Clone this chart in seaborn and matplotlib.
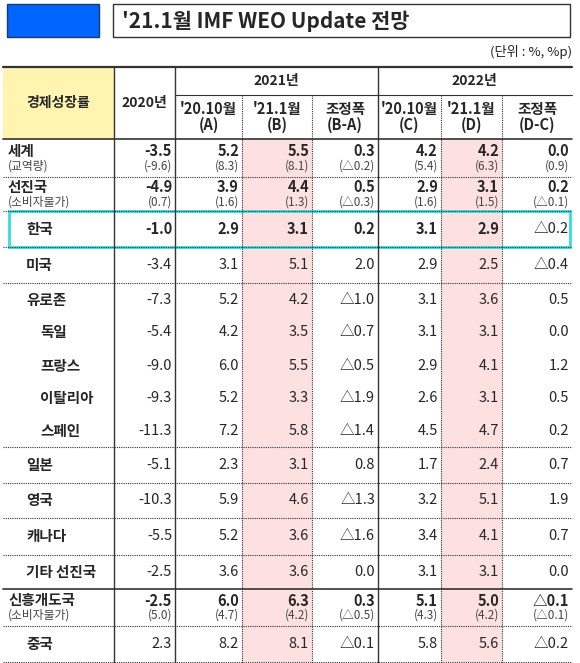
import matplotlib
matplotlib.use("Agg")
import matplotlib.pyplot as plt
import seaborn as sns
from matplotlib.patches import Rectangle

sns.set_style("white")
plt.rcParams['font.family'] = ['Noto Sans CJK KR', 'DejaVu Sans']

# ---- data ----
row_labels = ['세계', '선진국', '한국', '미국', '유로존', '독일', '프랑스', '이탈리아', '스페인',
              '일본', '영국', '캐나다', '기타 선진국', '신흥개도국', '중국']
sub_labels = {'세계': '(교역량)', '선진국': '(소비자물가)', '신흥개도국': '(소비자물가)'}
v2020 = ['-3.5', '-4.9', '-1.0', '-3.4', '-7.3', '-5.4', '-9.0', '-9.3', '-11.3',
         '-5.1', '-10.3', '-5.5', '-2.5', '-2.5', '2.3']
v21_a = ['5.2', '3.9', '2.9', '3.1', '5.2', '4.2', '6.0', '5.2', '7.2', '2.3', '5.9', '5.2', '3.6', '6.0', '8.2']
v21_b = ['5.5', '4.4', '3.1', '5.1', '4.2', '3.5', '5.5', '3.3', '5.8', '3.1', '4.6', '3.6', '3.6', '6.3', '8.1']
v21_d = ['0.3', '0.5', '0.2', '2.0', '△1.0', '△0.7', '△0.5', '△1.9', '△1.4',
         '0.8', '△1.3', '△1.6', '0.0', '0.3', '△0.1']
v22_c = ['4.2', '2.9', '3.1', '2.9', '3.1', '3.1', '2.9', '2.6', '4.5', '1.7', '3.2', '3.4', '3.1', '5.1', '5.8']
v22_d = ['4.2', '3.1', '2.9', '2.5', '3.6', '3.1', '4.1', '3.1', '4.7', '2.4', '5.1', '4.1', '3.1', '5.0', '5.6']
v22_dd = ['0.0', '0.2', '△0.2', '△0.4', '0.5', '0.0', '1.2', '0.5', '0.2',
          '0.7', '1.9', '0.7', '0.0', '△0.1', '△0.2']
sub_vals = {'세계': ['(-9.6)', '(8.3)', '(8.1)', '(△0.2)', '(5.4)', '(6.3)', '(0.9)'],
            '선진국': ['(0.7)', '(1.6)', '(1.3)', '(△0.3)', '(1.6)', '(1.5)', '(△0.1)'],
            '신흥개도국': ['(5.0)', '(4.7)', '(4.2)', '(△0.5)', '(4.3)', '(4.2)', '(△0.1)']}
bold_rows = ['세계', '선진국', '한국', '신흥개도국']
indented = ['독일', '프랑스', '이탈리아', '스페인']

# ---- layout (pixels) ----
col_edges = [3, 114, 175, 242, 312, 378, 441, 502, 572]
row_edges = [139, 177, 211, 247, 283, 316, 349, 382, 415, 447, 483, 518, 555, 589, 626, 662]
line_c = '#333333'

fig = plt.figure(figsize=(5.8, 6.63), dpi=100)
ax = fig.add_axes([0, 0, 1, 1])
ax.set_xlim(0, 580)
ax.set_ylim(663, 0)
ax.axis('off')

# title
ax.add_patch(Rectangle((7, 4), 92, 33, facecolor='#0066ff', edgecolor='#1a3a6e', lw=1))
ax.add_patch(Rectangle((113, 4), 457, 33, facecolor='white', edgecolor='#333333', lw=1))
ax.text(122, 21, "'21.1월 IMF WEO Update 전망", fontsize=15, fontweight='bold', va='center')
ax.text(572, 52, '(단위 : %, %p)', fontsize=9.5, ha='right', va='center', color='#222222')

# header
ax.add_patch(Rectangle((3, 67), 111, 72, facecolor='#fff5b0', edgecolor='none'))
ax.text(58, 103, '경제성장률', fontsize=10, fontweight='bold', ha='center', va='center')
ax.text(144, 103, '2020년', fontsize=10, fontweight='bold', ha='center', va='center')
ax.text(276, 81, '2021년', fontsize=10, fontweight='bold', ha='center', va='center')
ax.text(474, 81, '2022년', fontsize=10, fontweight='bold', ha='center', va='center')
sub_heads = ["'20.10월\n(A)", "'21.1월\n(B)", "조정폭\n(B-A)", "'20.10월\n(C)", "'21.1월\n(D)", "조정폭\n(D-C)"]
for i, h in enumerate(sub_heads):
    xc = (col_edges[i + 2] + col_edges[i + 3]) / 2
    ax.text(xc, 117, h, fontsize=10.5, fontweight='bold', ha='center', va='center', linespacing=1.0)

# pink columns
for ci in (3, 6):
    ax.add_patch(Rectangle((col_edges[ci], row_edges[0]), col_edges[ci + 1] - col_edges[ci],
                           row_edges[-1] - row_edges[0], facecolor='#fde0e0', edgecolor='none'))

# lines
ax.plot([3, 572], [67, 67], color=line_c, lw=1.6)
ax.plot([175, 572], [95, 95], color=line_c, lw=0.8)
ax.plot([3, 572], [139, 139], color=line_c, lw=1.2)
for y in (177, 211, 247, 283, 447, 483, 518, 555, 626, 662):
    ax.plot([3, 572], [y, y], color=line_c, lw=0.8, ls=(0, (1, 1)))
ax.plot([3, 572], [589, 589], color=line_c, lw=1.2)
for x in (114, 175, 378):
    ax.plot([x, x], [67, 663], color=line_c, lw=1.0)
for x in (242, 312, 441, 502):
    ax.plot([x, x], [95, 663], color=line_c, lw=0.8, ls=(0, (1, 1)))

# body
cols = [v2020, v21_a, v21_b, v21_d, v22_c, v22_d, v22_dd]
for r, lab in enumerate(row_labels):
    y0, y1 = row_edges[r], row_edges[r + 1]
    bold = 'bold' if lab in bold_rows else 'normal'
    has_sub = lab in sub_labels
    ym = (y0 + y1) / 2 - (7 if has_sub else 0)
    lx = 40 if lab in indented else (8 if has_sub else 26)
    ax.text(lx, ym, lab, fontsize=10.5, fontweight='bold', va='center')
    if has_sub:
        ax.text(8, ym + 15, sub_labels[lab], fontsize=8.5, color='#444444', va='center')
    for c, vals in enumerate(cols):
        xr = col_edges[c + 2] - 3
        w = 'normal' if (lab == '한국' and c == 6) else bold
        ax.text(xr, ym, vals[r], fontsize=10.5, fontweight=w, ha='right', va='center')
        if has_sub:
            ax.text(xr, ym + 15, sub_vals[lab][c], fontsize=8.5, color='#444444', ha='right', va='center')

# highlight 한국
ax.add_patch(Rectangle((9, 211), 561, 36, facecolor='none', edgecolor='#33dddd', lw=2))

fig.savefig('out.png', dpi=100)
